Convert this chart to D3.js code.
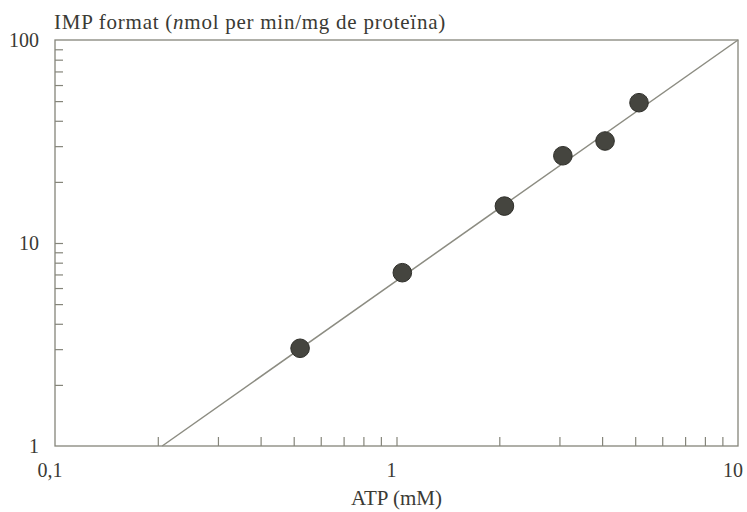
<!DOCTYPE html>
<html>
<head>
<meta charset="utf-8">
<script src="https://cdn.jsdelivr.net/npm/d3@7"></script>
<style>
  body { margin: 0; background: #fff; }
  text { font-family: "Liberation Serif", "DejaVu Serif", serif; fill: #3a3a34; }
</style>
</head>
<body>
<div id="chart"></div>
<script>
// data
const atp = [0.522, 1.04, 2.07, 3.07, 4.08, 5.13];
const imp = [3.03, 7.14, 15.2, 26.9, 31.8, 49.1];
const fitX = [0.206, 10];
const fitY = [1, 100];
const xTickLabels = ["0,1", "1", "10"];
const yTickLabels = ["1", "10", "100"];

const width = 747,
  height = 512;
const margin = { top: 40, right: 7, bottom: 66, left: 55 };

const svg = d3.select("#chart")
  .append("svg")
  .attr("width", width)
  .attr("height", height);

const x = d3.scaleLog()
  .domain([0.1, 10])
  .range([margin.left, width - margin.right - 2]);

const y = d3.scaleLog()
  .domain([1, 100])
  .range([height - margin.bottom, margin.top]);

const frameColor = "#85857a";

// frame
svg.append("rect")
  .attr("x", x(0.1))
  .attr("y", y(100))
  .attr("width", x(10) - x(0.1))
  .attr("height", y(1) - y(100))
  .attr("fill", "none")
  .attr("stroke", frameColor)
  .attr("stroke-width", 1.3);

// minor ticks, pointing inward
const xTicks = x.ticks().filter(d => d > 0.1 && d < 10);
svg.append("g")
  .attr("transform", `translate(0,${y(1)})`)
  .call(d3.axisTop(x).tickValues(xTicks).tickSize(9).tickFormat(""))
  .call(g => g.select(".domain").remove())
  .call(g => g.selectAll("line").attr("stroke", frameColor).attr("stroke-width", 1.2));

const yTicks = y.ticks().filter(d => d > 1 && d < 100);
svg.append("g")
  .attr("transform", `translate(${x(0.1)},0)`)
  .call(d3.axisRight(y).tickValues(yTicks).tickSize(8).tickFormat(""))
  .call(g => g.select(".domain").remove())
  .call(g => g.selectAll("line").attr("stroke", frameColor).attr("stroke-width", 1.2));

// tick labels
svg.append("g")
  .selectAll("text")
  .data([0.1, 1, 10])
  .join("text")
  .attr("x", d => x(d) - 5)
  .attr("y", y(1) + 31)
  .attr("text-anchor", "middle")
  .style("font-size", "20px")
  .text((d, i) => xTickLabels[i]);

svg.append("g")
  .selectAll("text")
  .data([1, 10, 100])
  .join("text")
  .attr("x", x(0.1) - 16)
  .attr("y", d => y(d) + 7)
  .attr("text-anchor", "end")
  .style("font-size", "20px")
  .text((d, i) => yTickLabels[i]);

// axis titles
svg.append("text")
  .attr("x", x(1))
  .attr("y", height - 7)
  .attr("text-anchor", "middle")
  .style("font-size", "21px")
  .text("ATP (mM)");

const title = svg.append("text")
  .attr("x", x(0.1) - 1)
  .attr("y", 29)
  .style("font-size", "21px")
  .style("letter-spacing", "0.75px");
title.append("tspan").text("IMP format (");
title.append("tspan").style("font-style", "italic").text("n");
title.append("tspan").text("mol per min/mg de proteïna)");

// fitted line
const line = d3.line()
  .x(d => x(d[0]))
  .y(d => y(d[1]));

svg.append("path")
  .datum(fitX.map((d, i) => [d, fitY[i]]))
  .attr("d", line)
  .attr("fill", "none")
  .attr("stroke", "#8c8c82")
  .attr("stroke-width", 1.5);

// points
svg.append("g")
  .selectAll("circle")
  .data(atp.map((d, i) => [d, imp[i]]))
  .join("circle")
  .attr("cx", d => x(d[0]))
  .attr("cy", d => y(d[1]))
  .attr("r", 9.3)
  .attr("fill", "#45453f")
  .attr("stroke", "#2e2e29")
  .attr("stroke-width", 1);
</script>
</body>
</html>
